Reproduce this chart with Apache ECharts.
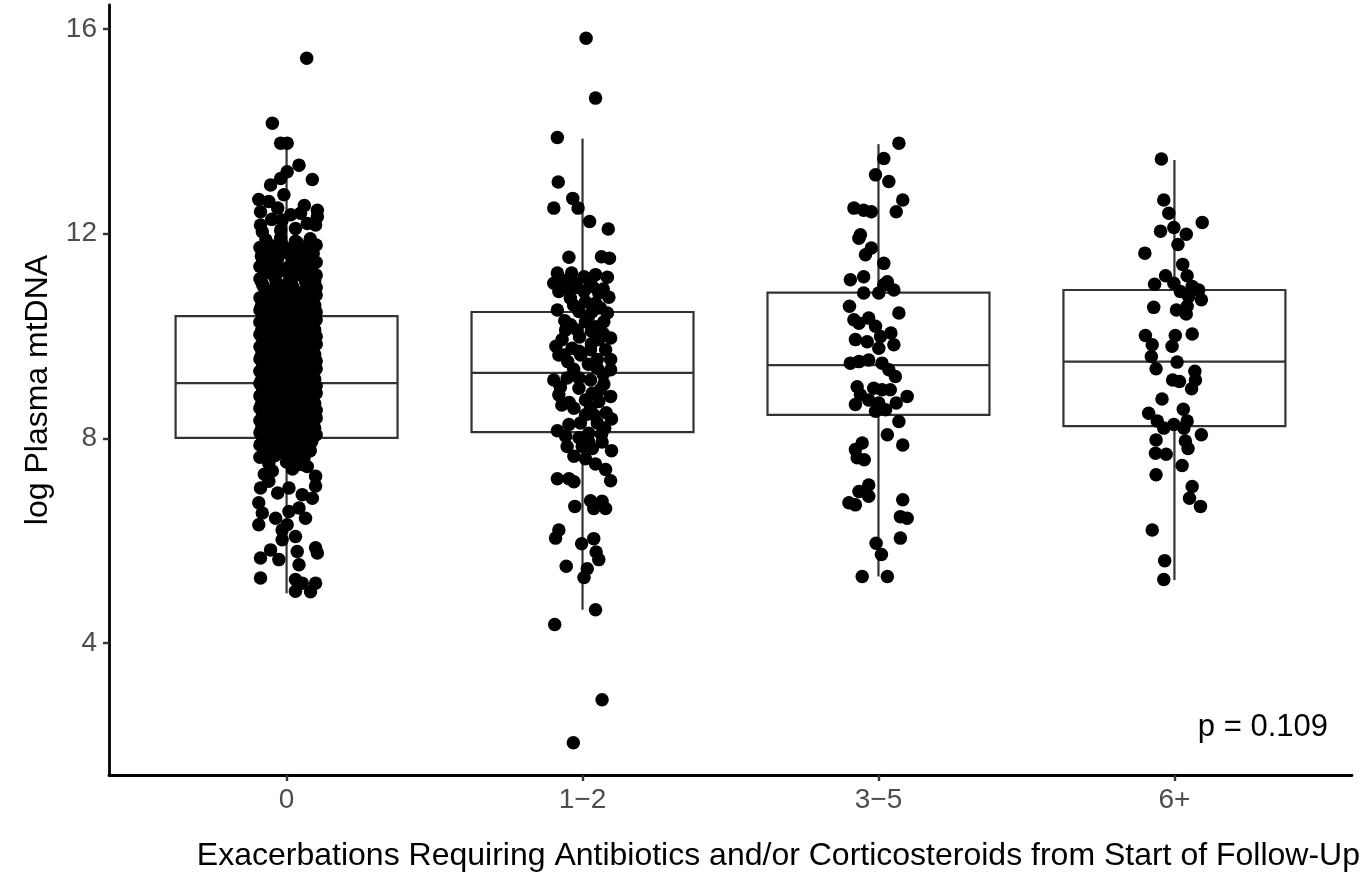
<!DOCTYPE html>
<html>
<head>
<meta charset="utf-8">
<script src="https://cdn.jsdelivr.net/npm/echarts@6/dist/echarts.min.js"></script>
<style>
html,body{margin:0;padding:0;background:#ffffff;}
#chart{width:1363px;height:875px;}
</style>
</head>
<body>
<div id="chart"></div>
<script>
// ---- data ----
const categories = ['0', '1\u22122', '3\u22125', '6+'];
const yTicks = [4, 8, 12, 16];
const xTitle = 'Exacerbations Requiring Antibiotics and/or Corticosteroids from Start of Follow-Up';
const yTitle = 'log Plasma mtDNA';
const pLabel = 'p = 0.109';

// box statistics per category
const boxLower = [4.97, 4.65, 5.30, 5.23];
const boxQ1 = [8.01, 8.12, 8.46, 8.24];
const boxMedian = [9.08, 9.28, 9.43, 9.50];
const boxQ3 = [10.39, 10.47, 10.85, 10.90];
const boxUpper = [13.67, 13.86, 13.75, 13.44];

// jittered points: [jitter offset, value]
const points0 = [
  [0.068,15.43],[-0.048,14.16],[-0.02,13.77],[0.002,13.77],[0.042,13.34],[0.002,13.21],[-0.02,13.08],[0.087,13.06],
  [-0.054,12.95],[-0.009,12.76],[-0.094,12.67],[-0.06,12.63],[-0.088,12.43],[0.047,12.40],[0.104,12.46],[0.014,12.37],
  [-0.015,12.27],[0.104,12.33],[-0.088,12.17],[0.07,12.20],[0.098,12.17],[-0.02,12.07],[-0.082,12.04],
  [-0.07,11.88],[-0.02,11.92],[0.03,11.85],[0.08,11.90],
  [-0.09,11.73],[-0.04,11.76],[0.01,11.70],[0.06,11.74],[0.10,11.78],
  [-0.06,11.61],[-0.01,11.64],[0.04,11.58],[0.09,11.62],
  [-0.08,11.49],[-0.03,11.52],[0.02,11.47],[0.07,11.51],[0.10,11.44],
  [-0.09,11.36],[-0.05,11.39],[0.00,11.33],[0.05,11.38],
  [-0.07,11.24],[-0.02,11.27],[0.03,11.21],[0.08,11.26],[0.10,11.19],
  [-0.09,11.12],[-0.04,11.15],[0.01,11.09],[0.06,11.13],
  [-0.08,10.99],[-0.03,11.02],[0.02,10.97],[0.07,11.01],[0.10,10.95],
  [-0.06,10.87],[-0.01,10.90],[0.04,10.85],[0.09,10.89],
  [-0.09,10.75],[-0.04,10.78],[0.01,10.72],[0.06,10.77],[0.10,10.80],
  [-0.07,10.63],[-0.02,10.66],[0.03,10.60],[0.08,10.64],
  [-0.09,10.51],[-0.05,10.54],[0.00,10.49],[0.05,10.53],[0.10,10.47],
  [-0.08,10.39],[-0.03,10.42],[0.02,10.37],[0.07,10.41],
  [-0.09,10.27],[-0.04,10.30],[0.01,10.25],[0.06,10.29],[0.10,10.32],
  [-0.07,10.15],[-0.02,10.18],[0.03,10.12],[0.08,10.16],
  [-0.09,10.03],[-0.05,10.06],[0.00,10.01],[0.05,10.05],[0.10,9.99],
  [-0.08,9.91],[-0.03,9.94],[0.02,9.89],[0.07,9.93],
  [-0.09,9.79],[-0.04,9.82],[0.01,9.77],[0.06,9.81],[0.10,9.84],
  [-0.07,9.67],[-0.02,9.70],[0.03,9.64],[0.08,9.68],
  [-0.09,9.55],[-0.05,9.58],[0.00,9.53],[0.05,9.57],[0.10,9.51],
  [-0.08,9.43],[-0.03,9.46],[0.02,9.41],[0.07,9.45],
  [-0.09,9.31],[-0.04,9.34],[0.01,9.29],[0.06,9.33],[0.10,9.36],
  [-0.07,9.19],[-0.02,9.22],[0.03,9.16],[0.08,9.20],
  [-0.09,9.07],[-0.05,9.10],[0.00,9.05],[0.05,9.09],[0.10,9.03],
  [-0.08,8.95],[-0.03,8.98],[0.02,8.93],[0.07,8.97],
  [-0.09,8.83],[-0.04,8.86],[0.01,8.81],[0.06,8.85],[0.10,8.88],
  [-0.07,8.71],[-0.02,8.74],[0.03,8.68],[0.08,8.72],
  [-0.09,8.59],[-0.05,8.62],[0.00,8.57],[0.05,8.61],[0.10,8.55],
  [-0.08,8.47],[-0.03,8.50],[0.02,8.45],[0.07,8.49],
  [-0.09,8.35],[-0.04,8.38],[0.01,8.33],[0.06,8.37],[0.10,8.40],
  [-0.07,8.23],[-0.02,8.26],[0.03,8.20],[0.08,8.24],
  [-0.09,8.11],[-0.05,8.14],[0.00,8.09],[0.05,8.13],[0.10,8.07],
  [-0.08,7.99],[-0.03,8.02],[0.02,7.97],[0.07,8.01],
  [-0.09,7.87],[-0.04,7.90],[0.01,7.85],[0.06,7.89],
  [-0.07,7.75],[-0.02,7.78],[0.03,7.72],[0.08,7.76],
  [-0.09,7.63],[-0.04,7.66],[0.02,7.61],[0.06,7.64],
  [-0.06,7.51],[0.00,7.54],[0.05,7.49],
  [-0.065,11.81],[-0.015,11.79],[0.035,11.83],[0.085,11.77],
  [-0.085,11.56],[-0.035,11.54],[0.015,11.57],[0.065,11.53],
  [-0.065,11.31],[-0.015,11.29],[0.035,11.33],[0.085,11.30],
  [-0.085,11.06],[-0.035,11.04],[0.015,11.07],[0.065,11.05],[0.095,11.08],
  [-0.065,10.82],[-0.015,10.80],[0.035,10.84],[0.085,10.81],
  [-0.085,10.58],[-0.035,10.56],[0.015,10.59],[0.065,10.57],[0.095,10.60],
  [-0.065,10.34],[-0.015,10.33],[0.035,10.35],[0.085,10.34],
  [-0.085,10.10],[-0.035,10.08],[0.015,10.11],[0.065,10.09],[0.095,10.12],
  [-0.065,9.86],[-0.015,9.85],[0.035,9.87],[0.085,9.86],
  [-0.085,9.62],[-0.035,9.60],[0.015,9.63],[0.065,9.61],[0.095,9.64],
  [-0.065,9.38],[-0.015,9.37],[0.035,9.39],[0.085,9.38],
  [-0.085,9.14],[-0.035,9.12],[0.015,9.15],[0.065,9.13],[0.095,9.16],
  [-0.065,8.90],[-0.015,8.89],[0.035,8.91],[0.085,8.90],
  [-0.085,8.66],[-0.035,8.64],[0.015,8.67],[0.065,8.65],[0.095,8.68],
  [-0.065,8.42],[-0.015,8.41],[0.035,8.43],[0.085,8.42],
  [-0.085,8.18],[-0.035,8.16],[0.015,8.19],[0.065,8.17],[0.095,8.20],
  [-0.065,7.94],[-0.015,7.93],[0.035,7.95],[0.085,7.94],
  [-0.055,7.70],[-0.005,7.69],[0.045,7.71],
  [-0.03,12.50],[0.06,12.55],[-0.05,12.28],[0.03,12.10],
  [0.07,7.45],[0.02,7.40],[-0.048,7.36],[-0.075,7.30],[0.098,7.26],[-0.06,7.16],[0.098,7.07],[-0.088,7.03],[0.008,7.03],
  [-0.03,6.93],[0.053,6.90],[0.087,6.83],[-0.094,6.74],[0.042,6.64],[0.008,6.57],[-0.082,6.54],[0.064,6.44],[-0.037,6.44],
  [-0.094,6.31],[0.002,6.31],[-0.015,6.21],[0.03,6.08],[-0.015,6.02],[0.098,5.86],[-0.054,5.82],[0.036,5.79],[0.104,5.76],
  [-0.088,5.66],[-0.026,5.63],[0.042,5.53],[-0.088,5.27],[0.03,5.24],[0.053,5.17],[0.098,5.17],[0.03,5.01],[0.081,5.00]
];
const points1 = [
  [0.012,15.82],[0.044,14.65],[-0.085,13.88],[-0.082,13.01],[-0.033,12.69],[-0.097,12.50],[-0.015,12.50],[0.024,12.24],
  [0.087,12.09],[-0.046,11.54],[0.064,11.55],[0.091,11.52],[-0.085,11.23],[-0.037,11.23],[0.005,11.16],[0.044,11.20],
  [0.084,11.15],[-0.097,11.03],[-0.024,11.03],[0.033,10.97],[-0.02,10.95],[-0.08,10.87],[0.005,10.87],[0.055,10.84],
  [-0.041,10.74],[0.089,10.76],[0.01,10.67],[0.044,10.64],[-0.085,10.51],[-0.012,10.48],[0.084,10.45],[0.033,10.48],
  [-0.06,10.30],[0.01,10.28],[0.072,10.28],[-0.057,10.12],[-0.018,10.12],[0.03,10.10],[0.07,10.05],[-0.069,9.93],
  [0.055,9.93],[0.095,9.96],[-0.09,9.80],[-0.035,9.76],[0.027,9.73],[0.078,9.73],[-0.08,9.63],[-0.012,9.70],
  [-0.063,9.63],[-0.006,9.63],[0.05,9.54],[0.095,9.54],[0.02,9.45],[-0.03,9.35],[0.095,9.34],[0.05,9.37],
  [-0.097,9.14],[-0.052,9.18],[-0.012,9.18],[0.027,9.14],[0.072,9.06],[0.06,8.95],[-0.08,8.85],[-0.012,8.98],
  [0.033,8.88],[0.095,8.82],[0.055,8.72],[-0.07,8.65],[-0.029,8.59],[0.027,8.59],[0.08,8.50],[0.098,8.38],
  [0.01,8.46],[-0.046,8.27],[-0.007,8.30],[0.05,8.30],[0.021,8.10],[-0.057,8.04],[0.064,8.08],[-0.012,8.01],
  [0.066,7.93],[-0.052,7.84],[-0.001,7.84],[0.033,7.80],[0.098,7.76],[-0.029,7.65],[0.01,7.60],[0.044,7.50],
  [0.078,7.39],[-0.085,7.21],[-0.046,7.21],[-0.029,7.15],[0.095,7.17],[0.027,6.78],[0.066,6.77],[-0.026,6.67],
  [0.038,6.63],[0.078,6.63],[-0.08,6.21],[-0.091,6.05],[0.038,6.04],[-0.003,5.94],[0.046,5.78],[0.055,5.63],
  [-0.055,5.50],[0.016,5.45],[0.005,5.28],[0.044,4.65],[-0.094,4.36],[0.066,2.89],[-0.031,2.05],
  [-0.06,11.08],[0.025,11.06],[0.07,10.92],[-0.045,10.90],[-0.03,10.60],[0.06,10.55],[0.02,10.38],[-0.04,10.22],
  [0.045,10.18],[-0.01,9.98],[0.03,9.85],[-0.05,9.50],[0.07,9.25],[-0.075,9.00],[0.01,8.75],[-0.045,8.70],
  [0.04,8.45],[0.075,8.20],[-0.085,8.15],[0.02,7.95]
];
const points2 = [
  [0.069,13.77],[0.018,13.47],[-0.01,13.15],[0.035,13.02],[0.082,12.66],[-0.083,12.50],[-0.05,12.46],[-0.024,12.43],
  [0.06,12.43],[-0.061,11.98],[-0.066,11.91],[-0.024,11.72],[-0.044,11.59],[0.018,11.42],[-0.05,11.16],[-0.095,11.10],
  [0.03,11.06],[0.018,11.00],[0.052,10.90],[-0.05,10.84],[0.001,10.84],[-0.098,10.58],[0.069,10.45],[-0.033,10.35],
  [-0.083,10.32],[-0.066,10.25],[-0.01,10.19],[0.042,10.06],[0.007,9.99],[-0.078,9.93],[-0.038,9.89],[0.052,9.83],
  [0.001,9.76],[-0.033,9.53],[-0.066,9.50],[-0.095,9.47],[0.012,9.47],[0.035,9.34],[0.057,9.21],[-0.072,9.01],
  [-0.016,8.98],[0.012,8.95],[0.04,8.95],[-0.061,8.85],[0.097,8.82],[-0.033,8.75],[-0.078,8.66],[0.001,8.69],
  [0.06,8.69],[0.024,8.56],[-0.01,8.53],[0.069,8.33],[0.03,8.07],[-0.055,7.91],[0.082,7.87],[-0.078,7.78],
  [-0.072,7.62],[-0.048,7.58],[-0.033,7.09],[-0.066,6.96],[-0.033,6.87],[0.082,6.80],[-0.1,6.74],[-0.078,6.70],
  [0.074,6.47],[0.097,6.44],[0.074,6.05],[-0.008,5.95],[0.01,5.73],[-0.055,5.30],[0.03,5.30]
];
const points3 = [
  [-0.044,13.46],[-0.036,12.66],[-0.019,12.40],[0.094,12.22],[-0.002,12.12],[-0.047,12.05],[0.04,11.99],[0.012,11.79],
  [-0.1,11.62],[0.028,11.40],[0.043,11.18],[-0.03,11.18],[-0.002,11.03],[-0.067,11.01],[0.06,10.97],[0.082,10.90],
  [0.02,10.87],[0.048,10.77],[0.091,10.71],[0.043,10.58],[-0.07,10.56],[0.007,10.51],[0.04,10.43],[0.06,10.04],
  [-0.098,10.01],[0.003,10.01],[-0.075,9.83],[-0.008,9.80],[-0.078,9.60],[0.009,9.49],[-0.062,9.36],[0.069,9.31],
  [0.071,9.14],[-0.006,9.14],[0.017,9.11],[0.058,8.97],[-0.042,8.77],[0.03,8.57],[-0.087,8.49],[-0.058,8.34],
  [0.043,8.34],[-0.036,8.20],[-0.002,8.27],[0.032,8.20],[0.091,8.07],[-0.062,7.97],[0.037,7.95],[0.046,7.80],
  [-0.064,7.71],[-0.028,7.69],[0.026,7.47],[-0.062,7.29],[0.06,7.06],[0.051,6.83],[0.088,6.67],[-0.075,6.21],
  [-0.033,5.61],[-0.036,5.24]
];
const groupPoints = [points0, points1, points2, points3];

// ---- build series data from arrays ----
const boxData = categories.map((c, i) => [i + 1, boxQ1[i], boxMedian[i], boxQ3[i], boxLower[i], boxUpper[i]]);
const scatterData = [];
groupPoints.forEach((pts, i) => pts.forEach(p => scatterData.push([i + 1 + p[0], p[1]])));

const FONT = '"Liberation Sans", Arial, Helvetica, sans-serif';
const BOX_HALF = 0.375;

const chart = echarts.init(document.getElementById('chart'), null, {renderer: 'canvas'});
chart.setOption({
  animation: false,
  backgroundColor: '#ffffff',
  grid: {left: 109, right: 11, top: 5, bottom: 100, containLabel: false},
  xAxis: {
    type: 'value', min: 0.4, max: 4.6,
    axisLine: {show: true, lineStyle: {color: '#000000', width: 2.8}},
    axisTick: {show: true, customValues: [1, 2, 3, 4], length: 6, lineStyle: {color: '#333333', width: 2.4}},
    axisLabel: {show: true, customValues: [1, 2, 3, 4], formatter: v => categories[Math.round(v) - 1],
      fontSize: 28, color: '#4D4D4D', fontFamily: FONT, margin: 11},
    splitLine: {show: false}
  },
  yAxis: {
    type: 'value', min: 1.42, max: 16.47,
    name: yTitle, nameLocation: 'middle', nameGap: 55,
    nameTextStyle: {fontSize: 32, color: '#000000', fontFamily: FONT},
    axisLine: {show: true, lineStyle: {color: '#000000', width: 2.8}},
    axisTick: {show: true, customValues: yTicks, length: 6, lineStyle: {color: '#333333', width: 2.4}},
    axisLabel: {show: true, customValues: yTicks, fontSize: 28, color: '#4D4D4D', fontFamily: FONT, margin: 12},
    splitLine: {show: false}
  },
  graphic: [
    {type: 'text', right: 3, top: 840, z: 10,
     style: {text: xTitle, fontSize: 32, fill: '#000000', fontFamily: FONT}},
    {type: 'text', right: 35, top: 712, z: 10,
     style: {text: pLabel, fontSize: 31, fill: '#000000', fontFamily: FONT}}
  ],
  series: [
    {
      type: 'custom', z: 1,
      data: boxData,
      renderItem: function (params, api) {
        const x = api.value(0), q1 = api.value(1), med = api.value(2), q3 = api.value(3), lo = api.value(4), hi = api.value(5);
        const tl = api.coord([x - BOX_HALF, q3]);
        const br = api.coord([x + BOX_HALF, q1]);
        const mL = api.coord([x - BOX_HALF, med]);
        const mR = api.coord([x + BOX_HALF, med]);
        const top = api.coord([x, hi]);
        const q3c = api.coord([x, q3]);
        const q1c = api.coord([x, q1]);
        const bot = api.coord([x, lo]);
        const ls = {stroke: '#333333', lineWidth: 2.2};
        return {
          type: 'group',
          children: [
            {type: 'line', shape: {x1: top[0], y1: top[1], x2: q3c[0], y2: q3c[1]}, style: ls},
            {type: 'line', shape: {x1: q1c[0], y1: q1c[1], x2: bot[0], y2: bot[1]}, style: ls},
            {type: 'rect', shape: {x: tl[0], y: tl[1], width: br[0] - tl[0], height: br[1] - tl[1]},
             style: {stroke: '#333333', lineWidth: 2.2, fill: '#ffffff'}},
            {type: 'line', shape: {x1: mL[0], y1: mL[1], x2: mR[0], y2: mR[1]}, style: ls}
          ]
        };
      }
    },
    {
      type: 'scatter', z: 2,
      data: scatterData,
      symbol: 'circle', symbolSize: 13.5,
      itemStyle: {color: '#000000', opacity: 1},
      silent: true
    }
  ]
});
</script>
</body>
</html>
